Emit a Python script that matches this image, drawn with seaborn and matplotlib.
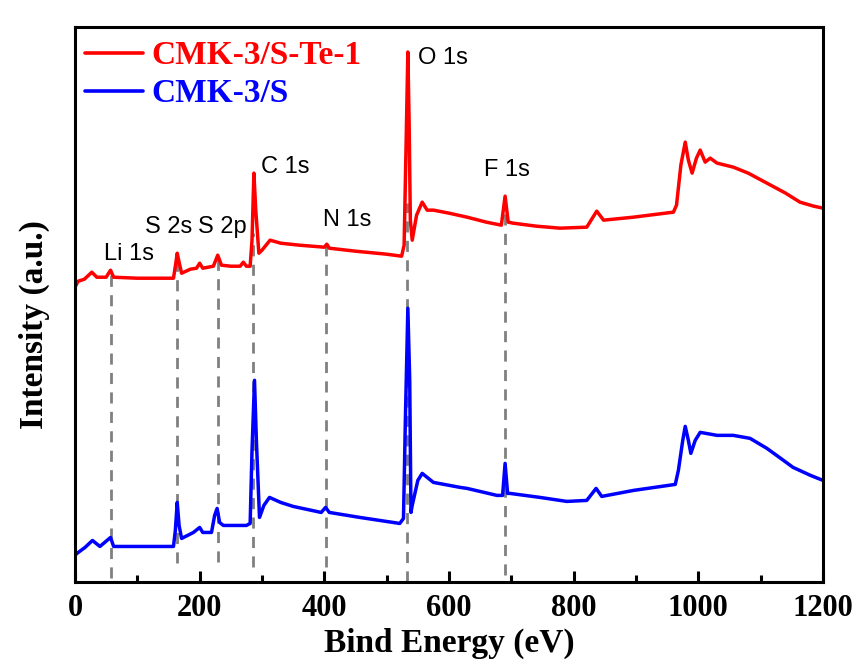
import matplotlib
matplotlib.use("Agg")
import matplotlib.pyplot as plt
from matplotlib.lines import Line2D
from matplotlib.ticker import MultipleLocator
import seaborn as sns
import pandas as pd

# ---- data ----
red_energy = [0, 5, 15, 27, 35, 50, 57, 62, 100, 158, 162, 164, 167, 171, 185, 195, 200, 205,
              222, 229, 235, 250, 265, 270, 275, 281, 284, 287, 290, 295, 300, 313, 330, 360,
              400, 404, 408, 450, 500, 524, 528, 531, 534, 536, 538, 541, 548, 557, 565, 575,
              600, 629, 660, 684, 690, 695, 703, 740, 778, 821, 837, 848, 896, 960, 965, 972,
              979, 984, 990, 997, 1003, 1011, 1019, 1030, 1056, 1080, 1110, 1140, 1163, 1185, 1200]
red_intensity = [295, 301, 303, 310, 305, 305, 312, 305, 304, 304, 320, 329, 320, 309, 313, 314, 319, 314,
                 316, 327, 317, 316, 316, 320, 316, 316, 342, 409, 372, 329, 332, 342, 339, 337,
                 335, 338, 334, 331, 328, 326, 337, 432, 530, 462, 362, 342, 367, 380, 372, 372,
                 369, 365, 360, 357, 386, 360, 359, 356, 354, 355, 371, 362, 365, 370, 377, 417,
                 440, 422, 409, 424, 432, 420, 424, 419, 415, 409, 399, 389, 380, 376, 374]

blue_energy = [0, 3, 16, 28, 40, 57, 62, 100, 158, 161, 164, 167, 171, 190, 200, 205, 219, 224,
               228, 232, 238, 275, 281, 284, 288, 291, 296, 303, 312, 330, 350, 395, 402, 408,
               457, 521, 527, 530, 534, 537, 539, 541, 550, 557, 575, 618, 629, 677, 686, 690,
               694, 698, 746, 789, 821, 836, 845, 896, 963, 968, 975, 979, 984, 988, 995, 1003,
               1030, 1056, 1083, 1110, 1130, 1152, 1180, 1200]
blue_intensity = [27, 29, 35, 42, 36, 45, 36, 36, 36, 52, 80, 57, 44, 50, 55, 50, 50, 67,
                  74, 60, 57, 57, 59, 132, 202, 142, 65, 77, 85, 80, 76, 70, 75, 70,
                  65, 59, 64, 162, 274, 202, 70, 77, 102, 109, 100, 95, 94, 87, 87, 119,
                  89, 89, 85, 81, 82, 94, 86, 92, 98, 112, 142, 156, 142, 129, 142, 150,
                  147, 147, 144, 134, 125, 115, 107, 102]

peak_names = ["Li 1s", "S 2s", "S 2p", "C 1s", "N 1s", "O 1s", "F 1s"]
peak_energy = [57, 164, 229, 285, 402, 533, 690]
line_top = [310, 324, 324, 349, 339, 379, 385]
line_bottom = [4, 19, 20, 15, 15, 0, 7]
label_x = [87, 151, 237, 337, 436, 590, 693]
label_y = [322, 349, 349, 409, 356, 518, 406]

series_names = ["CMK-3/S-Te-1", "CMK-3/S"]
series_colors = ["#FF0000", "#0000FF"]

df = pd.concat([
    pd.DataFrame({"Bind Energy (eV)": red_energy, "Intensity": red_intensity, "sample": series_names[0]}),
    pd.DataFrame({"Bind Energy (eV)": blue_energy, "Intensity": blue_intensity, "sample": series_names[1]}),
])

sns.set_style("white")
plt.rcParams["font.family"] = ["Liberation Serif", "DejaVu Serif"]
plt.rcParams["xtick.color"] = "black"
plt.rcParams["axes.labelcolor"] = "black"
plt.rcParams["text.color"] = "black"

fig = plt.figure(figsize=(8.58, 6.68), dpi=100)
ax = fig.add_axes([0.0874, 0.128, 0.8718, 0.8316])

# dashed guide lines
for e, t, b in zip(peak_energy, line_top, line_bottom):
    ax.plot([e, e], [b, t], color="#808080", lw=2.0, ls=(0, (4, 3)), zorder=1)

sns.lineplot(data=df, x="Bind Energy (eV)", y="Intensity", hue="sample",
             palette=dict(zip(series_names, series_colors)), linewidth=2.5,
             estimator=None, sort=False, ax=ax, legend=False, zorder=2)

for name, x, y in zip(peak_names, label_x, label_y):
    ax.text(x, y, name, ha="center", va="baseline", fontsize=17,
            family=["Liberation Sans", "DejaVu Sans"], color="black", zorder=3)

ax.set_xlim(0, 1200)
ax.set_ylim(0, 555)
ax.xaxis.set_major_locator(MultipleLocator(200))
ax.xaxis.set_minor_locator(MultipleLocator(100))
ax.tick_params(axis="x", which="major", direction="in", length=8, width=2.2,
               labelsize=22, pad=8, bottom=True, top=False, colors="black")
ax.tick_params(axis="x", which="minor", direction="in", length=5, width=2.2,
               bottom=True, top=False, colors="black")
for lab in ax.get_xticklabels():
    lab.set_fontweight("bold")
ax.set_yticks([])

for sp in ax.spines.values():
    sp.set_linewidth(2.2)
    sp.set_color("black")

ax.set_xlabel("Bind Energy (eV)", fontsize=24, fontweight="bold", labelpad=4, color="black")
ax.set_ylabel("Intensity (a.u.)", fontsize=24, fontweight="bold", color="black")
ax.yaxis.set_label_coords(-0.033, 0.465)

handles = [Line2D([0], [0], color=c, lw=2.6) for c in series_colors]
leg = ax.legend(handles, series_names, loc="upper left", bbox_to_anchor=(0.013, 0.976),
                frameon=False, borderaxespad=0, borderpad=0, handlelength=1.75,
                handletextpad=0.25, labelspacing=0.21,
                prop={"family": ["Liberation Serif"], "weight": "bold", "size": 24})
for txt, c in zip(leg.get_texts(), series_colors):
    txt.set_color(c)

fig.savefig("out.png", dpi=100)
